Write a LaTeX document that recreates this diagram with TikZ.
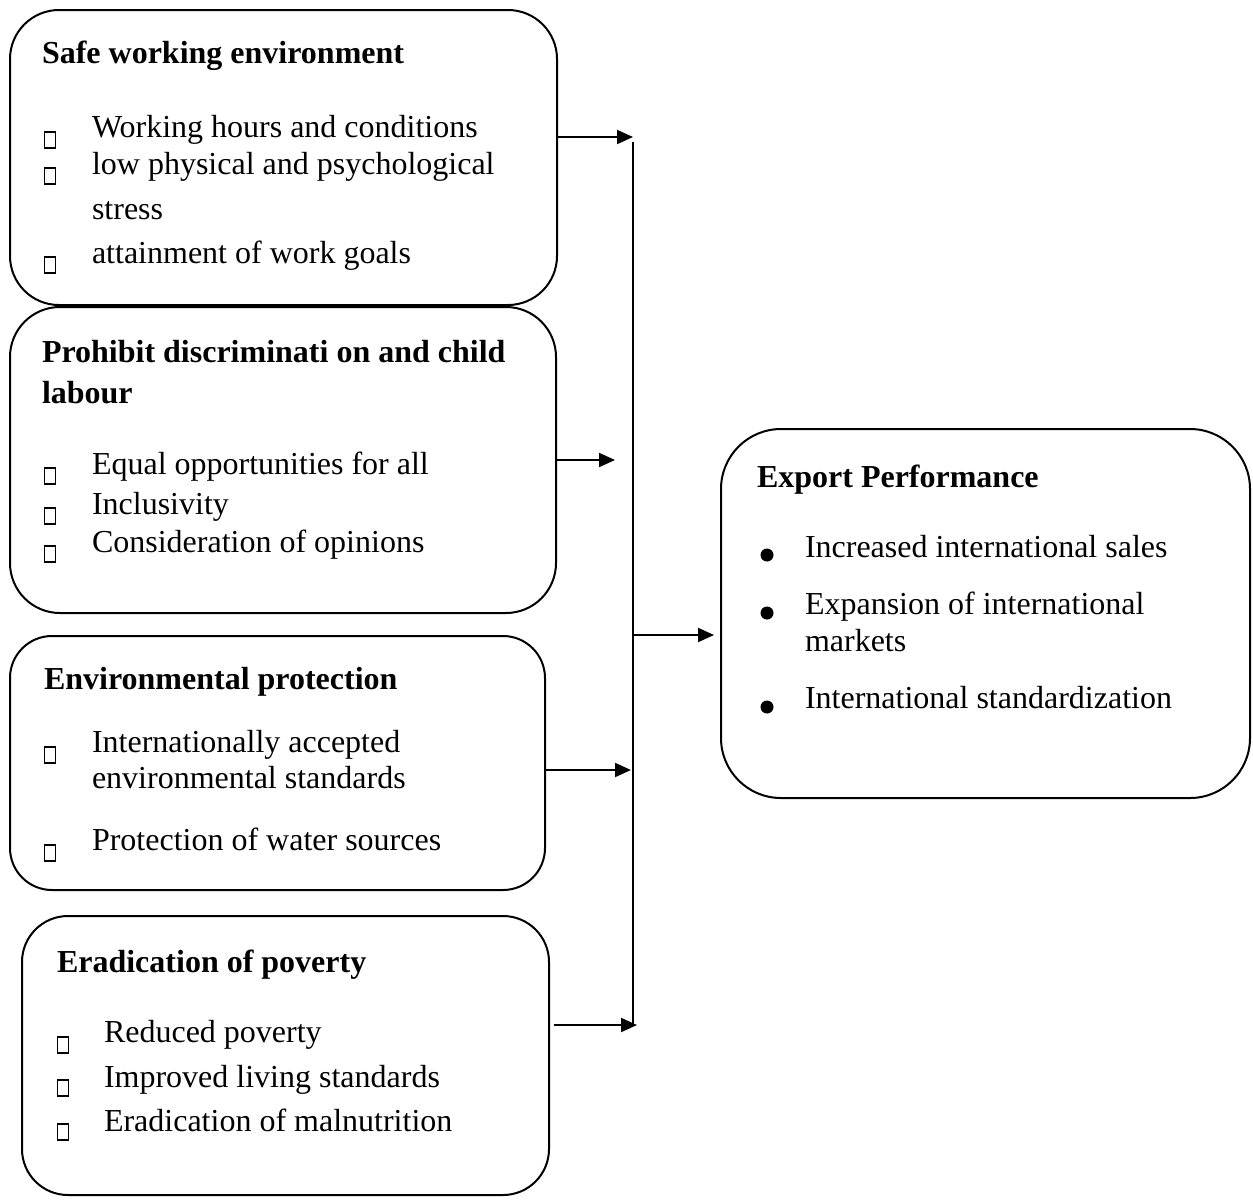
\documentclass[tikz,border=0pt]{standalone}
\usepackage{fontspec}
\setmainfont{Liberation Serif}
\usetikzlibrary{arrows.meta}
\begin{document}
\begin{tikzpicture}[x=0.5pt,y=-0.5pt,
  every node/.style={inner sep=0pt,outer sep=0pt},
  panel/.style={draw,line width=1pt,rectangle},
  txt/.style={anchor=base west,font=\fontsize{16pt}{19pt}\selectfont},
  ttl/.style={anchor=base west,font=\fontsize{16pt}{19pt}\selectfont\bfseries},
  sq/.style={draw,line width=0.85pt,minimum width=5.5pt,minimum height=8pt},
  dot/.style={fill,circle,minimum size=6.5pt},
  conn/.style={line width=1pt},
  arr/.style={conn,-{Triangle[length=8pt,width=7pt]}}
]
\useasboundingbox (0,0) rectangle (1253,1200);

% panels
\node[panel,minimum width=273.5pt,minimum height=147.5pt,rounded corners=24.5pt] (b1) at (283.5,157.5) {};
\node[panel,minimum width=273pt,minimum height=153pt,rounded corners=25pt] (b2) at (283,460) {};
\node[panel,minimum width=267.5pt,minimum height=127pt,rounded corners=21pt] (b3) at (277.5,763) {};
\node[panel,minimum width=263.5pt,minimum height=139.5pt,rounded corners=23pt] (b4) at (285.5,1055.5) {};
\node[panel,minimum width=264.5pt,minimum height=184.5pt,rounded corners=30pt] (b5) at (985.5,613.5) {};

% box 1
\node[ttl] (t1) at (42,63) {Safe working environment};
\node[txt] (t1a) at (92,137) {Working hours and conditions};
\node[txt] (t1b) at (92,174) {low physical and psychological};
\node[txt] (t1c) at (92,219) {stress};
\node[txt] (t1d) at (92,263) {attainment of work goals};
\node[sq] (q1a) at (50,140) {};
\node[sq] (q1b) at (50,176) {};
\node[sq] (q1c) at (50,265) {};

% box 2
\node[ttl] (t2) at (42,362) {Prohibit discriminati on and child};
\node[ttl] (t2b) at (42,403) {labour};
\node[txt] (t2c) at (92,474) {Equal opportunities for all};
\node[txt] (t2d) at (92,514) {Inclusivity};
\node[txt] (t2e) at (92,552) {Consideration of opinions};
\node[sq] (q2a) at (50,476) {};
\node[sq] (q2b) at (50,516) {};
\node[sq] (q2c) at (50,554) {};

% box 3
\node[ttl] (t3) at (44,689) {Environmental protection};
\node[txt] (t3a) at (92,752) {Internationally accepted};
\node[txt] (t3b) at (92,788) {environmental standards};
\node[txt] (t3c) at (92,850) {Protection of water sources};
\node[sq] (q3a) at (50,755) {};
\node[sq] (q3b) at (50,853) {};

% box 4
\node[ttl] (t4) at (57,972) {Eradication of poverty};
\node[txt] (t4a) at (104,1042) {Reduced poverty};
\node[txt] (t4b) at (104,1087) {Improved living standards};
\node[txt] (t4c) at (104,1131) {Eradication of malnutrition};
\node[sq] (q4a) at (63,1045) {};
\node[sq] (q4b) at (63,1088) {};
\node[sq] (q4c) at (63,1132) {};

% box 5
\node[ttl] (t5) at (757,487) {Export Performance};
\node[txt] (t5a) at (805,557) {Increased international sales};
\node[txt] (t5b) at (805,614) {Expansion of international};
\node[txt] (t5c) at (805,651) {markets};
\node[txt] (t5d) at (805,708) {International standardization};
\node[dot] (d5a) at (767,555) {};
\node[dot] (d5b) at (767,613) {};
\node[dot] (d5c) at (767,707) {};

% connectors
\coordinate (j1) at (633,137);
\coordinate (j2) at (615,460);
\coordinate (jt) at (633,142);
\coordinate (jb) at (633,1025);
\coordinate (jm) at (633,635);
\coordinate (j4) at (631,770);
\coordinate (s5) at (554,1025);
\coordinate (j5) at (637,1025);

\draw[arr] (b1.east |- j1) -- (j1);
\draw[arr] (b2.east |- j2) -- (j2);
\draw[conn] (jt) -- (jb);
\draw[arr,shorten >=3.5pt] (jm) -- (b5.west |- jm);
\draw[arr] (b3.east |- j4) -- (j4);
\draw[arr] (s5) -- (j5);
\end{tikzpicture}
\end{document}
